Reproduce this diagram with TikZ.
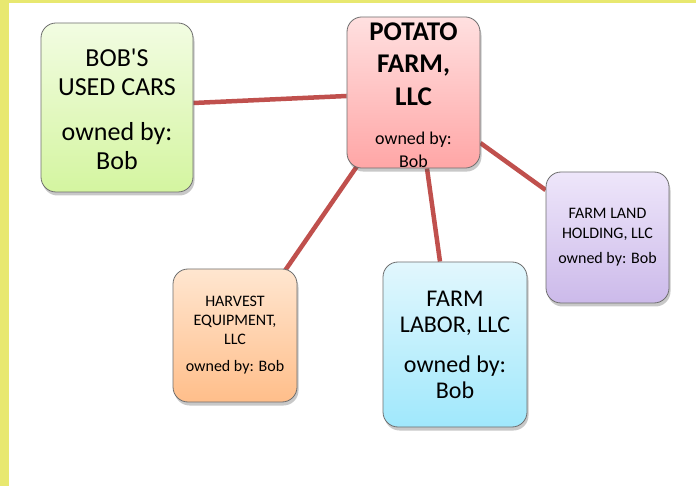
\documentclass[tikz,border=0pt]{standalone}
\usepackage{fontspec}
\newfontfamily\calibri{Carlito}
\usetikzlibrary{shadows,backgrounds}
\definecolor{frameyellow}{RGB}{232,232,112}
\definecolor{linkred}{RGB}{192,80,77}
\definecolor{boxedge}{RGB}{110,110,110}
\newcommand\smallown{\fontsize{18}{22}\mdseries\selectfont}
\begin{document}
\begin{tikzpicture}[x=1pt,y=-1pt,
  box/.style={draw=boxedge, line width=0.8pt, rounded corners=15pt, align=center,
    inner sep=0pt,
    drop shadow={shadow xshift=1.5pt, shadow yshift=-3.5pt, opacity=0.3, fill=black!70}},
  link/.style={draw=linkred, line width=4.5pt}]
\useasboundingbox (0,0) rectangle (696,486);

\node[box, minimum width=152pt, minimum height=169pt, font={\calibri\fontsize{26}{29}\selectfont},
  top color={rgb,255:red,242;green,252;blue,226}, bottom color={rgb,255:red,212;green,245;blue,160}]
  (cars) at (117,107.5)
  {\rule{0pt}{22pt}BOB'S\\USED CARS\\[16pt]owned by:\\Bob};

\node[box, minimum width=133pt, minimum height=151pt, font={\calibri\fontsize{27}{33}\bfseries\selectfont},
  top color={rgb,255:red,255;green,224;blue,224}, bottom color={rgb,255:red,255;green,166;blue,166}]
  (potato) at (413.5,92.5)
  {\rule{0pt}{24pt}POTATO\\[-1pt]FARM,\\LLC\\[6pt]\smallown owned by:\\[-10pt]\smallown Bob};

\node[box, minimum width=124pt, minimum height=133pt, font={\calibri\fontsize{16}{19}\selectfont},
  top color={rgb,255:red,255;green,230;blue,208}, bottom color={rgb,255:red,255;green,190;blue,138}]
  (harvest) at (235,335.5)
  {HARVEST\\EQUIPMENT,\\LLC\\[8pt]owned by: Bob};

\node[box, minimum width=144pt, minimum height=165pt, font={\calibri\fontsize{24}{26}\selectfont},
  top color={rgb,255:red,226;green,247;blue,253}, bottom color={rgb,255:red,160;green,232;blue,252}]
  (labor) at (455,344.5)
  {FARM\\LABOR, LLC\\[14pt]owned by:\\Bob};

\node[box, minimum width=123pt, minimum height=131pt, font={\calibri\fontsize{16}{20}\selectfont},
  top color={rgb,255:red,238;green,230;blue,250}, bottom color={rgb,255:red,204;green,186;blue,234}]
  (land) at (607.5,237.5)
  {FARM LAND\\HOLDING, LLC\\[5pt]owned by: Bob};

\begin{scope}[on background layer]
\fill[white] (0,0) rectangle (696,486);
\fill[frameyellow] (0,0) rectangle (8.5,486);
\fill[frameyellow] (0,0) rectangle (696,3.5);
\draw[link] ([yshift=4.5pt]cars.east) -- ([yshift=-3.5pt]potato.west);
\draw[link] ([xshift=-56pt,yshift=3pt]potato.south) -- ([xshift=50pt,yshift=-2pt]harvest.north);
\draw[link] ([xshift=13.5pt]potato.south) -- ([xshift=-15pt]labor.north);
\draw[link] ([yshift=-50.5pt]potato.east) -- ([yshift=47.5pt]land.west);
\end{scope}
\end{tikzpicture}
\end{document}
